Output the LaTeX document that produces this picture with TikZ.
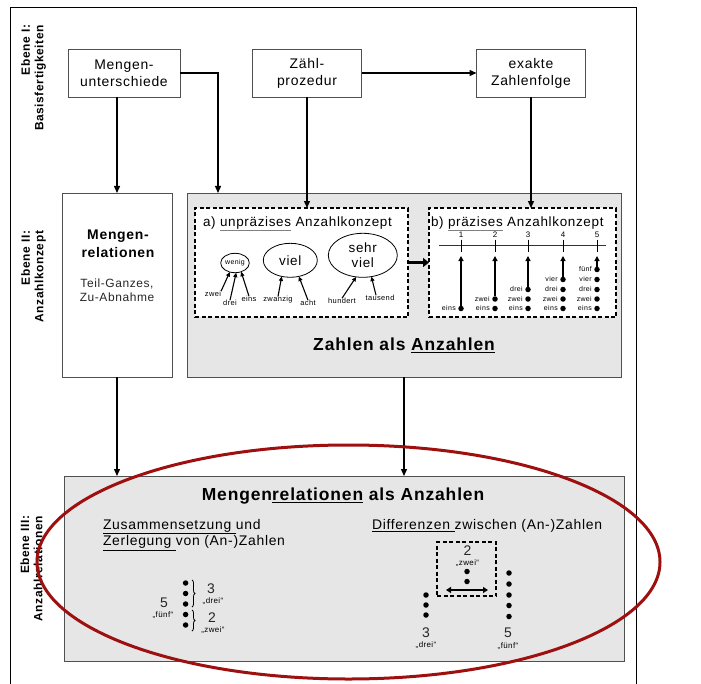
\documentclass[tikz,border=0pt]{standalone}
\usepackage{fontspec}
\setmainfont{Liberation Sans}[LetterSpace=5]
\usetikzlibrary{arrows.meta,shapes.geometric,decorations.pathreplacing,calc}
\definecolor{boxgray}{HTML}{E6E6E6}
\definecolor{edgegray}{HTML}{505050}
\definecolor{ellred}{HTML}{9E1010}
\newcommand{\fsz}[2]{\fontsize{#1}{#2}\selectfont}
\newcommand{\gul}[1]{{\color{gray}\underline{\color{black}#1}}}
\begin{document}
\begin{tikzpicture}[x=1bp,y=-1bp,
  every node/.style={inner sep=0pt,outer sep=0pt},
  topbox/.style={draw=edgegray,line width=0.8bp,fill=white,align=center,font=\fsz{14}{17},minimum height=48bp},
  graybox/.style={draw=edgegray,line width=0.9bp,fill=boxgray},
  whitebox/.style={draw=edgegray,line width=0.8bp,fill=white},
  dashbox/.style={draw=black,line width=1.3bp,dash pattern=on 4bp off 2.5bp,fill=white},
  dashbox2/.style={draw=black,line width=1.2bp,dash pattern=on 4bp off 2.5bp},
  ebene/.style={rotate=90,anchor=east,align=right,font=\bfseries\fsz{12}{13.5}},
  conn/.style={draw=black,line width=1.3bp,-{Triangle[length=7bp,width=6bp]}},
  thinarr/.style={draw=black,line width=1.1bp,-{Triangle[length=4.5bp,width=4bp]}},
  barr/.style={draw=black,line width=1.8bp,-{Triangle[length=5bp,width=5bp]}},
  bigarr/.style={draw=black,line width=3bp,-{Triangle[length=6bp,width=9bp]}},
  ell/.style={ellipse,draw=black,line width=0.8bp,fill=white,align=center},
  bdot/.style={circle,fill=black,minimum size=5.5bp},
  smalllbl/.style={font=\fsz{7.5}{8}},
  qlbl/.style={font=\fsz{8}{9}},
  numlbl/.style={font=\fsz{14}{16},text=black!85},
  bracestyle/.style={decorate,decoration={brace,amplitude=3bp},line width=0.8bp},
]
\useasboundingbox (0,0) rectangle (701,684);
% outer frame
\draw[line width=0.8bp] (10,684) -- (10,7) -- (636,7) -- (636,684);

% level labels
\node[ebene] (e1) at (33.5,25) {Ebene I:\\Basisfertigkeiten};
\node[ebene] (e2) at (33.5,231) {Ebene II:\\Anzahlkonzept};
\node[ebene] (e3) at (31.5,516) {Ebene III:\\Anzahlrelationen};

% level I boxes
\node[topbox,minimum width=112bp] (mengen) at (124,73) {Mengen-\\unterschiede};
\node[topbox,minimum width=109bp] (zaehl) at (307,73) {Zähl-\\prozedur};
\node[topbox,minimum width=109bp] (exakt) at (531,73) {exakte\\Zahlenfolge};

% level II boxes
\node[whitebox,minimum width=110bp,minimum height=184bp] (mr) at (117,285) {};
\node[font=\bfseries\fsz{14}{18},align=center] (mrt) at (118,244) {Mengen-\\relationen};
\node[font=\fsz{12}{14},align=center,text=black!85] (mrs) at (117,290) {Teil-Ganzes,\\Zu-Abnahme};

\node[graybox,minimum width=434bp,minimum height=184bp] (konzept) at (404,285) {};
\node[dashbox,minimum width=213bp,minimum height=109bp] (ka) at (301.5,262.5) {};
\node[dashbox,minimum width=187bp,minimum height=109bp] (kb) at (522.5,262.5) {};
\node[font=\bfseries\fsz{17.5}{20}] (zt) at (404,345) {Zahlen als \underline{Anzahlen}};

% box a
\node[anchor=base west,font=\fsz{13.5}{16}] (ta) at (203,226) {a) \gul{unpräzises} Anzahlkonzept};
\node[ell,minimum width=28.6bp,minimum height=19.4bp,font=\fsz{7}{8}] (wenig) at (235,263) {wenig};
\node[ell,minimum width=54bp,minimum height=34bp,font=\fsz{13.5}{15}] (viel) at (290.3,260.3) {viel};
\node[ell,minimum width=69bp,minimum height=44bp,font=\fsz{13.5}{15}] (sviel) at (362.8,255.3) {sehr\\viel};
\node[smalllbl] (zwei) at (213,294) {zwei};
\node[smalllbl] (drei) at (230,303) {drei};
\node[smalllbl] (eins) at (249,299) {eins};
\node[smalllbl] (zwanzig) at (278,300) {zwanzig};
\node[smalllbl] (acht) at (308,303) {acht};
\node[smalllbl] (hundert) at (342,301) {hundert};
\node[smalllbl] (tausend) at (380,298) {tausend};
\draw[thinarr] (zwei.north east) -- (wenig.240);
\draw[thinarr] (drei.north) -- (wenig.277);
\draw[thinarr] (eins.north) -- (wenig.305);
\draw[thinarr] (zwanzig.north) -- (viel.242);
\draw[thinarr] (acht.north) -- (viel.298);
\draw[thinarr] (hundert.north) -- (sviel.253);
\draw[thinarr] ([xshift=-4bp]tausend.north) -- (sviel.292);

% box b
\node[anchor=base west,font=\fsz{13.5}{16}] (tb) at (431,226) {b) \gul{präzises} Anzahlkonzept};
\draw[line width=0.9bp,draw=black!80] (439,245) -- (606,245);
\foreach \x [count=\c] in {461,495,528,563,597} {
  \foreach \y/\w [count=\r] in {308.5/eins,299/zwei,289.5/drei,279.5/vier,269.5/fünf} {
    \ifnum\r>\c\relax\else
      \node[bdot] (d\c\r) at (\x,\y) {};
      \node[font=\fsz{7}{8},anchor=east] (l\c\r) at ([xshift=-2.5bp]d\c\r.west) {\w};
    \fi
  }
  \node[font=\fsz{8}{9}] (n\c) at (\x,234.5) {\c};
  \coordinate (t\c) at (\x,256);
  \draw[line width=0.9bp] (\x,239.5) -- (\x,252);
  \draw[barr] (d\c\c.north) -- (t\c);
}
\draw[bigarr] (ka.east) -- (kb.west);

% level III box
\node[graybox,minimum width=560bp,minimum height=185bp] (rel) at (344,568.5) {};
\node[font=\bfseries\fsz{17.5}{20}] (rt) at (343,496) {Mengen\underline{relationen} als Anzahlen};
\node[anchor=north west,align=left,font=\fsz{14}{16.5}] (zs) at (103,519) {\underline{Zusammensetzung }und\\\underline{Zerlegung }von (An-)Zahlen};
\node[anchor=west,font=\fsz{14}{16.5}] (df) at (372,526) {\underline{Differenzen }zwischen (An-)Zahlen};

% composition
\foreach \y [count=\i] in {583,593.5,604,614.5,625} \node[bdot] (ld\i) at (185.6,\y) {};
\draw[bracestyle] (192,580) -- (192,607);
\draw[bracestyle] (192,610) -- (192,631);
\node[numlbl] (c3) at (211,589) {3};
\node[qlbl] (cq3) at (213,601) {„drei“};
\node[numlbl] (c2) at (212,618) {2};
\node[qlbl] (cq2) at (213,630.5) {„zwei“};
\node[numlbl] (c5) at (164,603) {5};
\node[qlbl] (cq5) at (163,615.5) {„fünf“};

% differences
\node[dashbox2,minimum width=59bp,minimum height=54bp] (diff) at (466.5,569) {};
\node[numlbl] (dn2) at (467.5,551) {2};
\node[qlbl] (dq2) at (467.5,563) {„zwei“};
\node[bdot] (dd1) at (467,571.5) {};
\node[bdot] (dd2) at (467,581.5) {};
\coordinate (da1) at (446,590);
\coordinate (da2) at (488,590);
\draw[line width=2.5bp,{Triangle[length=5bp,width=6bp]}-{Triangle[length=5bp,width=6bp]}] (da1) -- (da2);
\foreach \y [count=\i] in {595,605,615} \node[bdot] (ad\i) at (426,\y) {};
\node[numlbl] (an3) at (426,633) {3};
\node[qlbl] (aq3) at (426,645.5) {„drei“};
\foreach \y [count=\i] in {573,584,595,605.5,616.5} \node[bdot] (bd\i) at (509,\y) {};
\node[numlbl] (bn5) at (508,633) {5};
\node[qlbl] (bq5) at (508,646.5) {„fünf“};

% connectors
\coordinate (c1) at ($(konzept.north west)+(31,0)$);
\draw[conn] (zaehl.east) -- (exakt.west);
\draw[conn] (mengen.east) -| (c1);
\draw[conn] (mr.north |- mengen.south) -- (mr.north);
\draw[conn] (zaehl.south) -- (zaehl.south |- ka.north);
\draw[conn] (exakt.south) -- (exakt.south |- kb.north);
\draw[conn] (konzept.south) -- (konzept.south |- rel.north);
\draw[conn] (mr.south) -- (mr.south |- rel.north);

% red ellipse
\draw[draw=ellred,line width=3bp] (348.5,562) ellipse [x radius=311.5,y radius=117];
\end{tikzpicture}
\end{document}
